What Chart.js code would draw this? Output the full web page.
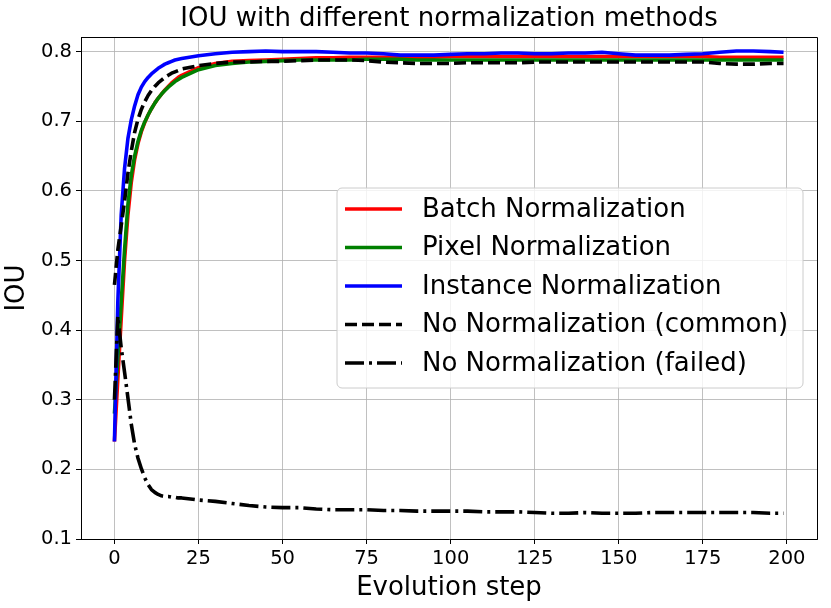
<!DOCTYPE html>
<html>
<head>
<meta charset="utf-8">
<script src="https://cdn.jsdelivr.net/npm/chart.js@4.4.1/dist/chart.umd.min.js"></script>
<style>
  html, body { margin: 0; padding: 0; background: #fff; }
  #wrap { width: 831px; height: 608px; }
</style>
</head>
<body>
<div id="wrap"><canvas id="iouChart" width="831" height="608"></canvas></div>
<script>
const steps = [0, 1, 2, 3, 4, 5, 6, 7, 8, 9, 10, 11, 12, 13, 14, 15, 16, 17, 18, 19, 20,
  25, 30, 35, 40, 45, 50, 55, 60, 65, 70, 75, 80, 85, 90, 95, 100, 105, 110, 115, 120,
  125, 130, 135, 140, 145, 150, 155, 160, 165, 170, 175, 180, 185, 190, 195, 199];

const batchNorm = [0.240, 0.330, 0.415, 0.500, 0.565, 0.612, 0.645, 0.668, 0.685, 0.698, 0.709,
  0.718, 0.726, 0.733, 0.739, 0.745, 0.750, 0.755, 0.759, 0.763, 0.766,
  0.777, 0.783, 0.786, 0.787, 0.788, 0.789, 0.790, 0.791, 0.791, 0.792, 0.792, 0.792, 0.792, 0.792, 0.792, 0.793,
  0.793, 0.793, 0.793, 0.793, 0.793, 0.793, 0.793, 0.793, 0.793, 0.793, 0.793, 0.793, 0.793, 0.793, 0.793,
  0.792, 0.792, 0.792, 0.792, 0.792];

const pixelNorm = [0.280, 0.360, 0.440, 0.515, 0.580, 0.622, 0.650, 0.671, 0.687, 0.699, 0.709,
  0.718, 0.726, 0.733, 0.739, 0.744, 0.749, 0.753, 0.757, 0.760, 0.763,
  0.774, 0.780, 0.783, 0.785, 0.786, 0.787, 0.788, 0.788, 0.788, 0.788, 0.789, 0.789, 0.789, 0.788, 0.788, 0.788,
  0.788, 0.788, 0.788, 0.788, 0.788, 0.788, 0.788, 0.788, 0.788, 0.788, 0.788, 0.788, 0.788, 0.788, 0.788,
  0.788, 0.788, 0.788, 0.788, 0.788];

const instanceNorm = [0.240, 0.440, 0.565, 0.632, 0.675, 0.702, 0.722, 0.738, 0.749, 0.757, 0.763,
  0.768, 0.772, 0.776, 0.779, 0.782, 0.784, 0.786, 0.788, 0.789, 0.790,
  0.794, 0.797, 0.799, 0.800, 0.801, 0.800, 0.800, 0.800, 0.799, 0.798, 0.798, 0.797, 0.795, 0.795, 0.795, 0.796,
  0.797, 0.797, 0.798, 0.798, 0.797, 0.797, 0.798, 0.798, 0.799, 0.797, 0.795, 0.795, 0.795, 0.796, 0.797,
  0.799, 0.801, 0.801, 0.800, 0.799];

const noNormCommon = [0.465, 0.515, 0.550, 0.585, 0.625, 0.657, 0.684, 0.703, 0.717, 0.728, 0.737,
  0.744, 0.750, 0.755, 0.759, 0.763, 0.766, 0.769, 0.771, 0.773, 0.775,
  0.780, 0.783, 0.785, 0.785, 0.786, 0.786, 0.787, 0.788, 0.788, 0.788, 0.787, 0.785, 0.784, 0.783, 0.783, 0.783,
  0.784, 0.784, 0.784, 0.784, 0.785, 0.785, 0.785, 0.785, 0.785, 0.785, 0.785, 0.785, 0.785, 0.785, 0.785,
  0.783, 0.782, 0.782, 0.783, 0.783];

const noNormFailed = [0.300, 0.420, 0.375, 0.340, 0.303, 0.265, 0.236, 0.216, 0.201, 0.188, 0.178,
  0.171, 0.167, 0.164, 0.162, 0.161, 0.161, 0.160, 0.160, 0.159, 0.159,
  0.156, 0.154, 0.151, 0.148, 0.146, 0.145, 0.145, 0.143, 0.142, 0.142, 0.142, 0.141, 0.141, 0.140, 0.140, 0.140,
  0.140, 0.139, 0.139, 0.139, 0.138, 0.137, 0.137, 0.138, 0.137, 0.137, 0.137, 0.138, 0.138, 0.138, 0.138,
  0.138, 0.138, 0.138, 0.137, 0.137];

const seriesNames = ['Batch Normalization', 'Pixel Normalization', 'Instance Normalization',
  'No Normalization (common)', 'No Normalization (failed)'];
const xTicks = [0, 25, 50, 75, 100, 125, 150, 175, 200];
const yTicks = [0.1, 0.2, 0.3, 0.4, 0.5, 0.6, 0.7, 0.8];

const FONT = "'DejaVu Sans', 'Liberation Sans', sans-serif";
const styles = [
  { color: '#ff0000', dash: [] },
  { color: '#008000', dash: [] },
  { color: '#0000ff', dash: [] },
  { color: '#000000', dash: [12, 5] },
  { color: '#000000', dash: [19, 5, 3, 5] }
];

function pts(ys) {
  return steps.map((s, i) => ({ x: s, y: ys[i] }));
}

const allSeries = [batchNorm, pixelNorm, instanceNorm, noNormCommon, noNormFailed];
const datasets = allSeries.map((ys, i) => ({
  label: seriesNames[i],
  data: pts(ys),
  borderColor: styles[i].color,
  borderDash: styles[i].dash,
  borderWidth: 3.6,
  borderCapStyle: 'butt',
  borderJoinStyle: 'round',
  pointRadius: 0,
  tension: 0,
  fill: false,
  order: 5 - i
}));

// white page, top/right spines, title and the in-plot legend
const decor = {
  id: 'decor',
  beforeDraw(chart) {
    const c = chart.ctx;
    c.save();
    c.fillStyle = '#fff';
    c.fillRect(0, 0, chart.width, chart.height);
    c.restore();
  },
  afterDraw(chart) {
    const c = chart.ctx;
    const a = chart.chartArea;
    c.save();
    c.strokeStyle = '#000';
    c.lineWidth = 1;
    c.beginPath();
    c.moveTo(a.left, a.top + 0.5);
    c.lineTo(a.right + 0.5, a.top + 0.5);
    c.lineTo(a.right + 0.5, a.bottom);
    c.stroke();

    // title
    c.fillStyle = '#000';
    c.font = '26px ' + FONT;
    c.textAlign = 'center';
    c.textBaseline = 'middle';
    c.fillText('IOU with different normalization methods', (a.left + a.right) / 2, 19);

    // legend box
    const bx = 337, by = 188, bw = 466, bh = 200, r = 5;
    c.beginPath();
    c.moveTo(bx + r, by);
    c.arcTo(bx + bw, by, bx + bw, by + bh, r);
    c.arcTo(bx + bw, by + bh, bx, by + bh, r);
    c.arcTo(bx, by + bh, bx, by, r);
    c.arcTo(bx, by, bx + bw, by, r);
    c.closePath();
    c.fillStyle = 'rgba(255,255,255,0.8)';
    c.fill();
    c.strokeStyle = '#cccccc';
    c.stroke();

    c.font = '26px ' + FONT;
    c.textAlign = 'left';
    for (let i = 0; i < seriesNames.length; i++) {
      const y = 209 + i * 38.5;
      c.beginPath();
      c.setLineDash(styles[i].dash);
      c.lineCap = 'butt';
      c.strokeStyle = styles[i].color;
      c.lineWidth = 3.6;
      c.moveTo(345, y);
      c.lineTo(402, y);
      c.stroke();
      c.setLineDash([]);
      c.fillStyle = '#000';
      c.fillText(seriesNames[i], 422, y + 1);
    }
    c.restore();
  }
};

const ctx = document.getElementById('iouChart').getContext('2d');
new Chart(ctx, {
  type: 'line',
  data: { datasets },
  options: {
    responsive: false,
    animation: false,
    devicePixelRatio: 1,
    layout: { padding: { top: 37, right: 14, left: 0, bottom: 0 } },
    plugins: {
      legend: { display: false },
      title: { display: false },
      tooltip: { enabled: false }
    },
    scales: {
      x: {
        type: 'linear',
        min: -9.95,
        max: 208.95,
        afterFit(s) { s.height = 69; },
        afterBuildTicks(s) { s.ticks = xTicks.map(v => ({ value: v })); },
        ticks: {
          font: { family: FONT, size: 19.5 },
          color: '#000',
          padding: 3,
          maxRotation: 0,
          callback: v => String(v)
        },
        grid: { color: '#b0b0b0', lineWidth: 0.8, tickLength: 5, tickColor: '#000', tickWidth: 1 },
        border: { color: '#000', width: 1 },
        title: {
          display: true,
          text: 'Evolution step',
          color: '#000',
          font: { family: FONT, size: 26 },
          padding: { top: 0, bottom: 4 }
        }
      },
      y: {
        min: 0.1,
        max: 0.821,
        afterFit(s) { s.width = 81; },
        afterBuildTicks(s) { s.ticks = yTicks.map(v => ({ value: v })); },
        ticks: {
          font: { family: FONT, size: 19.5 },
          color: '#000',
          padding: 4,
          callback: v => v.toFixed(1)
        },
        grid: { color: '#b0b0b0', lineWidth: 0.8, tickLength: 5, tickColor: '#000', tickWidth: 1 },
        border: { color: '#000', width: 1 },
        title: {
          display: true,
          text: 'IOU',
          color: '#000',
          font: { family: FONT, size: 26 },
          padding: { top: 2, bottom: 0 }
        }
      }
    }
  },
  plugins: [decor]
});
</script>
</body>
</html>
